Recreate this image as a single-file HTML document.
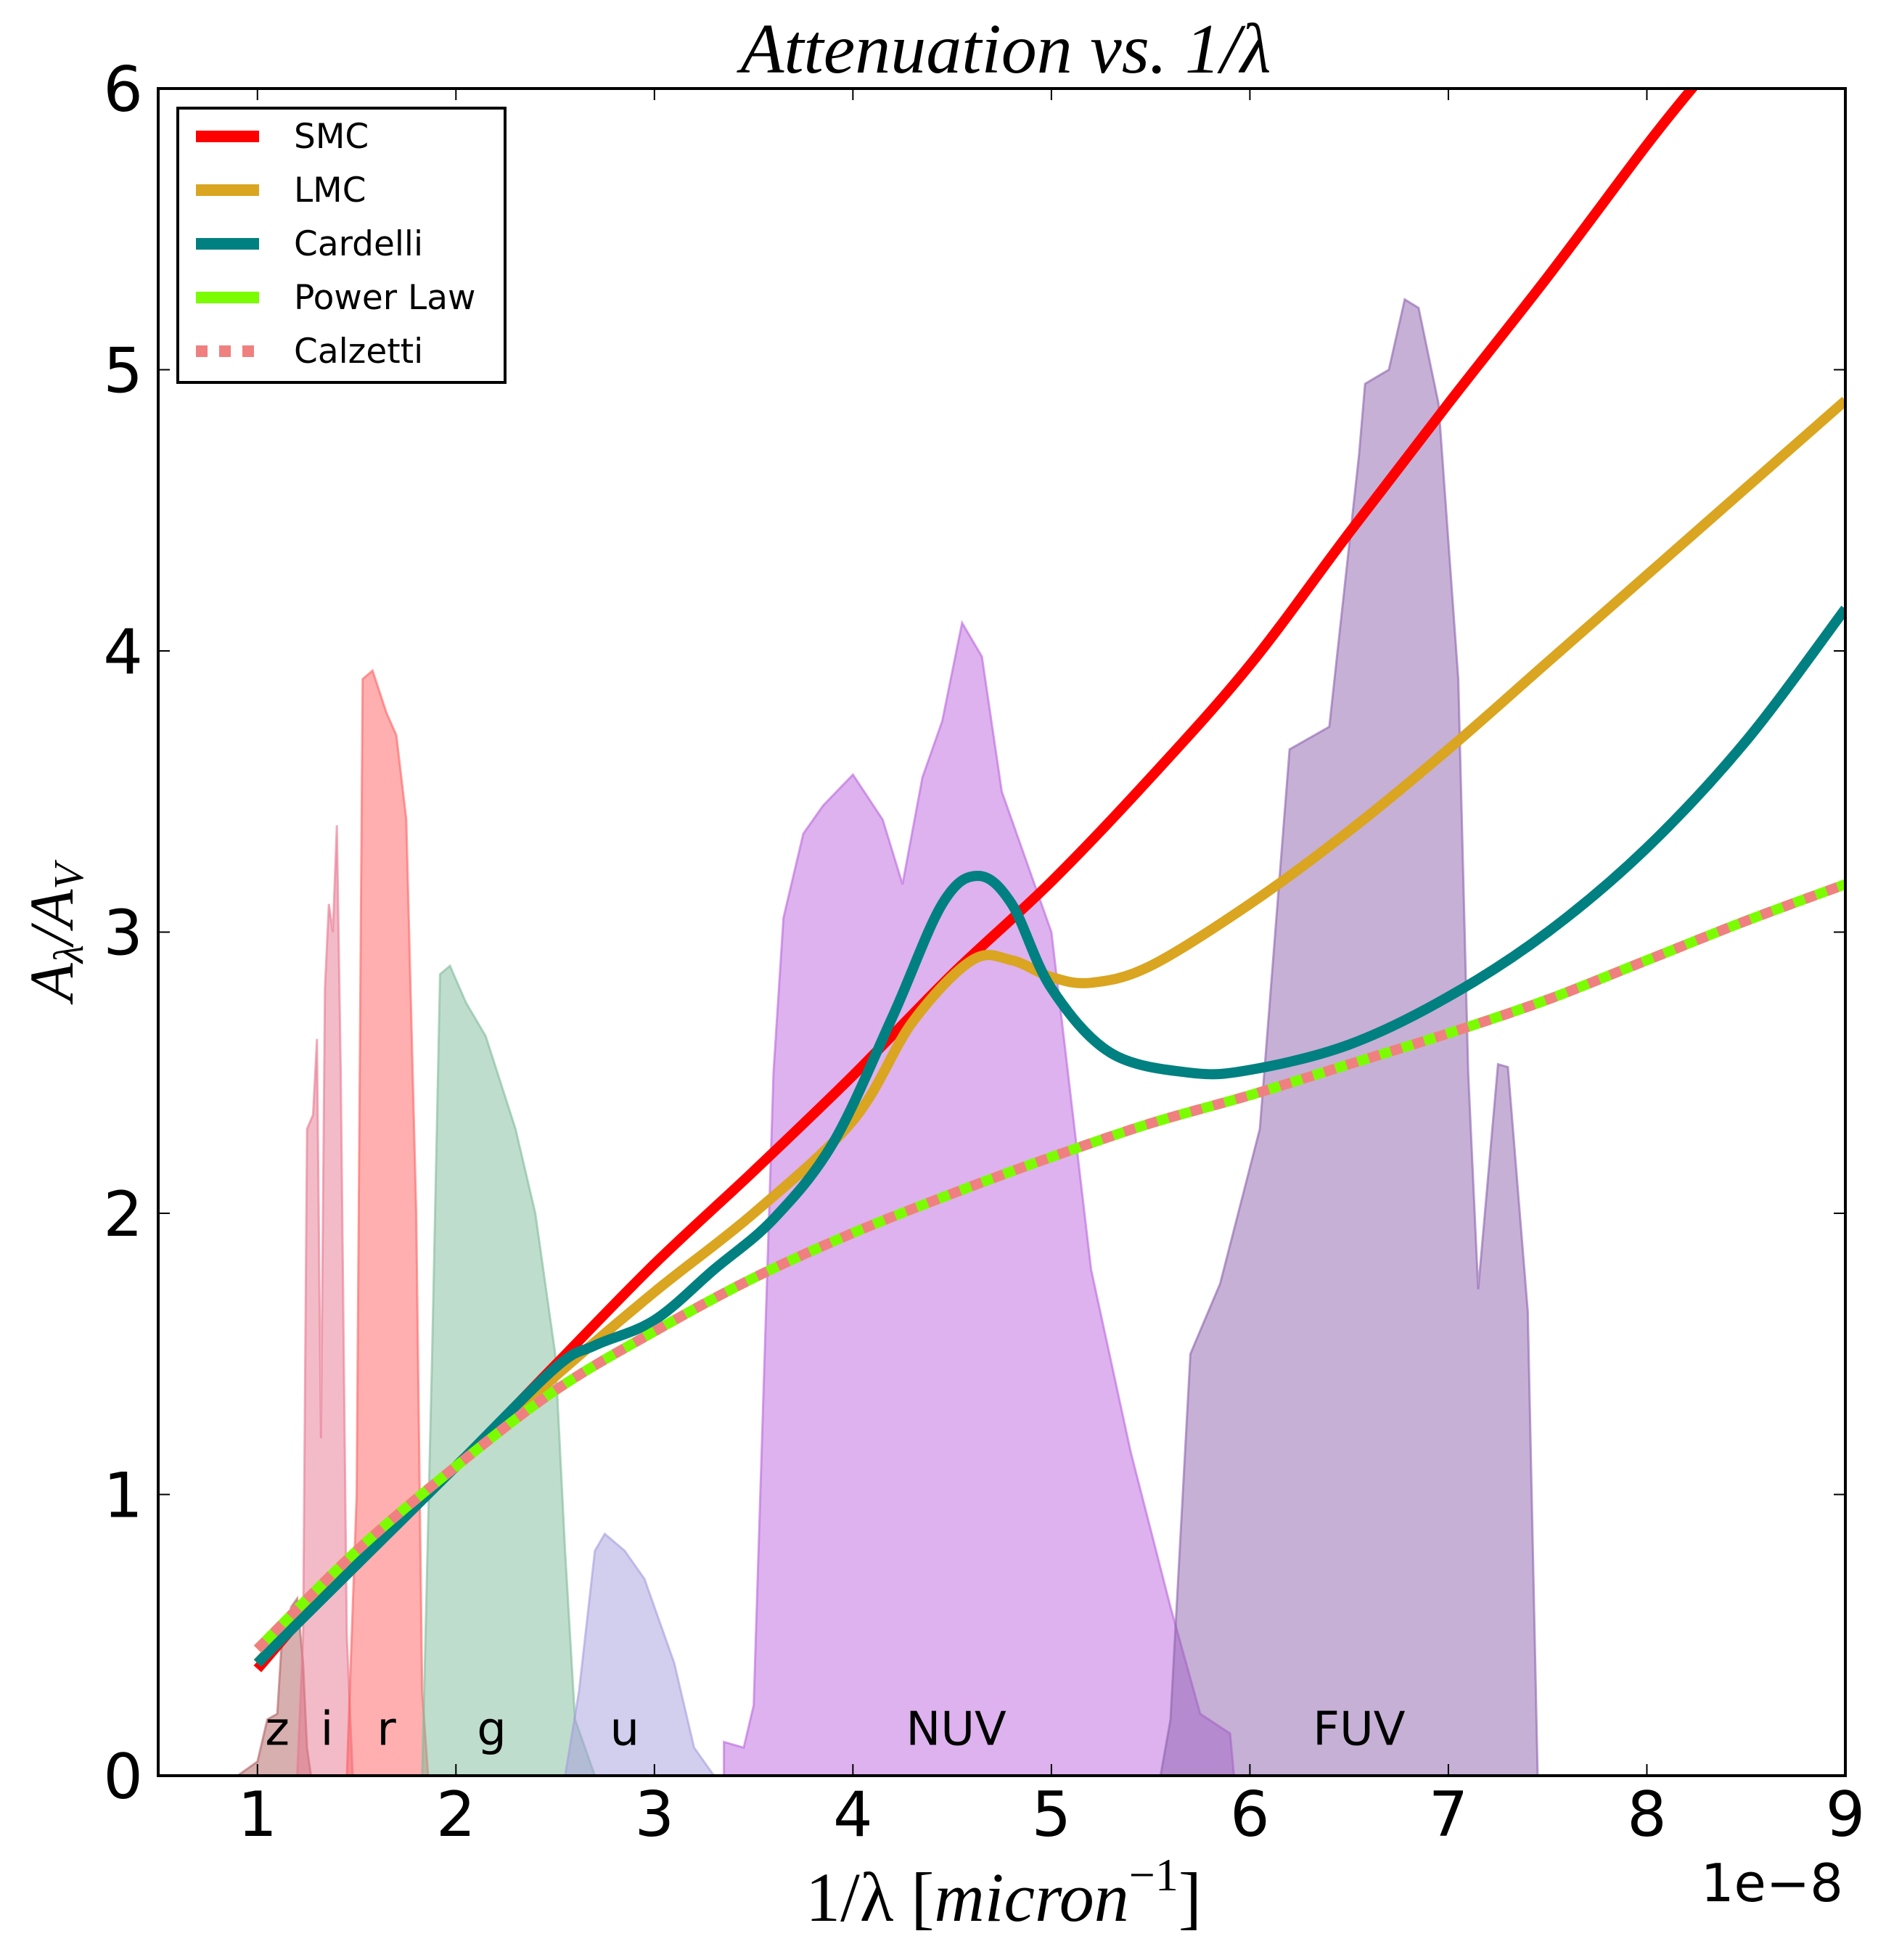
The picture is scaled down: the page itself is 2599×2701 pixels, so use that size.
<!DOCTYPE html>
<html><head><meta charset="utf-8"><style>
html,body{margin:0;padding:0;background:#fff;}
svg{display:block;}
</style></head><body>
<svg id="chart" xmlns="http://www.w3.org/2000/svg" width="2599" height="2701" viewBox="0 0 2599 2701">
<rect x="0" y="0" width="2599" height="2701" fill="#fff"/>
<g id="bands"></g>
<g id="curves"></g>
<g id="axes"></g>
<text x="1386" y="100" text-anchor="middle" font-family="Liberation Serif, serif" font-style="italic" font-size="98">Attenuation vs. 1/λ</text>
<text x="1383" y="2647" text-anchor="middle" font-family="Liberation Serif, serif" font-size="96">1/λ [<tspan font-style="italic">micron</tspan><tspan font-size="64" dy="-42">−1</tspan><tspan dy="42">]</tspan></text>
<text transform="translate(100,1285) rotate(-90)" text-anchor="middle" font-family="Liberation Serif, serif" font-style="italic" font-size="86">A<tspan font-size="58" dy="14">λ</tspan><tspan dy="-14">/A</tspan><tspan font-size="58" dy="14">V</tspan></text>
<text x="2540" y="2620" text-anchor="end" font-family="DejaVu Sans, sans-serif" font-size="72">1e−8</text>
<g id="legend"></g>
</svg>
<script>
const L=218,R=2543,T=122,B=2447,XMIN=0.5,XMAX=9,YMIN=0,YMAX=6;
function sx(v){return L+(v-XMIN)/(XMAX-XMIN)*(R-L);}
function sy(v){return B-(v-YMIN)/(YMAX-YMIN)*(B-T);}
const NS="http://www.w3.org/2000/svg";
function mk(tag,attrs,parent){const e=document.createElementNS(NS,tag);for(const k in attrs)e.setAttribute(k,attrs[k]);parent.appendChild(e);return e;}

const xTicks=[1,2,3,4,5,6,7,8,9];
const xTickLabels=["1","2","3","4","5","6","7","8","9"];
const yTicks=[0,1,2,3,4,5,6];
const yTickLabels=["0","1","2","3","4","5","6"];

const bandNames=["z","i","r","g","u","NUV","FUV"];
const bandLabelX=[1.1,1.35,1.65,2.18,2.85,4.52,6.55];
const bandZ=[[0.9,0],[1.0,0.05],[1.05,0.2],[1.1,0.22],[1.12,0.45],[1.17,0.6],[1.2,0.63],[1.23,0.4],[1.25,0.1],[1.27,0]];
const bandI=[[1.2,0],[1.23,0.5],[1.25,2.3],[1.28,2.35],[1.3,2.62],[1.32,1.2],[1.34,2.8],[1.36,3.1],[1.38,3.0],[1.4,3.38],[1.42,2.5],[1.45,0.5],[1.48,0]];
const bandR=[[1.45,0],[1.5,1.0],[1.53,3.9],[1.58,3.93],[1.65,3.78],[1.7,3.7],[1.75,3.4],[1.8,2.0],[1.83,0.3],[1.86,0]];
const bandG=[[1.83,0],[1.88,1.5],[1.92,2.85],[1.97,2.88],[2.05,2.75],[2.15,2.63],[2.3,2.3],[2.4,2.0],[2.5,1.5],[2.55,0.8],[2.6,0.2],[2.7,0]];
const bandU=[[2.55,0],[2.62,0.3],[2.7,0.8],[2.75,0.86],[2.85,0.8],[2.95,0.7],[3.1,0.4],[3.2,0.1],[3.3,0]];
const bandNUV=[[3.35,0],[3.35,0.12],[3.45,0.1],[3.5,0.25],[3.6,2.5],[3.65,3.05],[3.75,3.35],[3.85,3.45],[4.0,3.56],[4.15,3.4],[4.25,3.17],[4.35,3.55],[4.45,3.75],[4.55,4.1],[4.65,3.98],[4.75,3.5],[5.0,3.0],[5.2,1.8],[5.4,1.15],[5.6,0.6],[5.75,0.22],[5.9,0.15],[5.92,0]];
const bandFUV=[[5.55,0],[5.6,0.2],[5.7,1.5],[5.85,1.75],[6.05,2.3],[6.2,3.65],[6.4,3.73],[6.55,4.7],[6.58,4.95],[6.7,5.0],[6.78,5.25],[6.85,5.22],[6.95,4.88],[7.05,3.9],[7.1,2.5],[7.15,1.73],[7.25,2.53],[7.3,2.52],[7.4,1.65],[7.45,0]];

const smc=[[1,0.38],[1.5,0.78],[2,1.1],[2.5,1.46],[3,1.82],[3.5,2.15],[4,2.49],[4.5,2.85],[5,3.18],[5.5,3.55],[6,3.95],[6.5,4.42],[7,4.88],[7.5,5.33],[8,5.8],[8.25,6.02]];
const lmc=[[1,0.4],[1.5,0.78],[2,1.1],[2.5,1.42],[3,1.72],[3.5,2.0],[4,2.33],[4.3,2.68],[4.6,2.9],[4.8,2.9],[5,2.84],[5.2,2.82],[5.5,2.88],[6,3.1],[6.5,3.36],[7,3.65],[7.5,3.96],[8,4.27],[8.5,4.58],[9,4.89]];
const cardelli=[[1,0.4],[1.5,0.75],[2,1.1],[2.5,1.45],[2.7,1.53],[3,1.62],[3.3,1.8],[3.6,1.98],[3.9,2.25],[4.2,2.7],[4.45,3.1],[4.63,3.2],[4.8,3.1],[5,2.8],[5.3,2.57],[5.7,2.5],[6,2.51],[6.5,2.6],[7,2.77],[7.5,3.0],[8,3.3],[8.5,3.68],[9,4.15]];
const powerLaw=[[1,0.45],[1.5,0.8],[2,1.1],[2.5,1.37],[3,1.58],[3.5,1.77],[4,1.93],[4.5,2.07],[5,2.2],[5.5,2.32],[6,2.42],[6.5,2.53],[7,2.64],[7.5,2.76],[8,2.9],[8.5,3.04],[9,3.17]];
const calzetti=[[1,0.45],[1.5,0.8],[2,1.1],[2.5,1.37],[3,1.58],[3.5,1.77],[4,1.93],[4.5,2.07],[5,2.2],[5.5,2.32],[6,2.42],[6.5,2.53],[7,2.64],[7.5,2.76],[8,2.9],[8.5,3.04],[9,3.17]];

const bands=document.getElementById('bands');
const bandData=[bandZ,bandI,bandR,bandG,bandU,bandNUV,bandFUV];
const bandColors=["#b06060","#e87890","#ff6060","#80bb99","#a59ddd","#bb66dd","#8e62ae"];
bandData.forEach((d,i)=>{
  const p=mk('polygon',{points:d.map(q=>sx(q[0]).toFixed(1)+','+sy(q[1]).toFixed(1)).join(' '),fill:bandColors[i],'fill-opacity':0.5,stroke:bandColors[i],'stroke-opacity':0.6,'stroke-width':3},bands);
  
  
});
bandNames.forEach((n,i)=>{
  const t=mk('text',{x:sx(bandLabelX[i]),y:sy(0.11),'text-anchor':'middle','font-family':'DejaVu Sans, sans-serif','font-size':64},bands);
  t.textContent=n;
  
  
});

function smooth(d){
  const p=d.map(q=>[sx(q[0]),sy(q[1])]);
  let s='M'+p[0][0].toFixed(1)+','+p[0][1].toFixed(1);
  for(let i=0;i<p.length-1;i++){
    const p0=p[i-1]||p[i],p1=p[i],p2=p[i+1],p3=p[i+2]||p[i+1];
    const c1=[p1[0]+(p2[0]-p0[0])/6,p1[1]+(p2[1]-p0[1])/6];
    const c2=[p2[0]-(p3[0]-p1[0])/6,p2[1]-(p3[1]-p1[1])/6];
    s+=' C'+c1[0].toFixed(1)+','+c1[1].toFixed(1)+' '+c2[0].toFixed(1)+','+c2[1].toFixed(1)+' '+p2[0].toFixed(1)+','+p2[1].toFixed(1);
  }
  return s;
}
const curves=document.getElementById('curves');
const cp=mk('clipPath',{id:'clip'},curves);
mk('rect',{x:L,y:T,width:R-L,height:B-T},cp);
const series=[
 {d:smc,c:'#ff0000',n:'SMC',dash:null},
 {d:lmc,c:'#daa520',n:'LMC',dash:null},
 {d:cardelli,c:'#008080',n:'Cardelli',dash:null},
 {d:powerLaw,c:'#7cfc00',n:'Power Law',dash:null},
 {d:calzetti,c:'#f08080',n:'Calzetti',dash:'16,16'}];
series.forEach(s=>{
  const a={d:smooth(s.d),fill:'none',stroke:s.c,'stroke-width':14,'clip-path':'url(#clip)'};
  if(s.dash)a['stroke-dasharray']=s.dash;
  const p=mk('path',a,curves);
  
  
});

const axes=document.getElementById('axes');
const fr=mk('rect',{x:L,y:T,width:R-L,height:B-T,fill:'none',stroke:'#000','stroke-width':4},axes);


xTicks.forEach((v,i)=>{
  const x=sx(v);
  mk('line',{x1:x,y1:B,x2:x,y2:B-16,stroke:'#000','stroke-width':2},axes);
  mk('line',{x1:x,y1:T,x2:x,y2:T+16,stroke:'#000','stroke-width':2},axes);
  const t=mk('text',{x:x,y:2530,'text-anchor':'middle','font-family':'DejaVu Sans, sans-serif','font-size':86},axes);
  t.textContent=xTickLabels[i];
  
  
});
yTicks.forEach((v,i)=>{
  const y=sy(v);
  mk('line',{x1:L,y1:y,x2:L+16,y2:y,stroke:'#000','stroke-width':2},axes);
  mk('line',{x1:R,y1:y,x2:R-16,y2:y,stroke:'#000','stroke-width':2},axes);
  const t=mk('text',{x:197,y:y+31,'text-anchor':'end','font-family':'DejaVu Sans, sans-serif','font-size':86},axes);
  t.textContent=yTickLabels[i];
  
  
});

const lg=document.getElementById('legend');
const lb=mk('rect',{x:245,y:149,width:451,height:378,fill:'#fff',stroke:'#000','stroke-width':4},lg);


series.forEach((s,i)=>{
  const y=188+i*74;
  const a={x1:270,y1:y,x2:357,y2:y,stroke:s.c,'stroke-width':16};
  if(s.dash)a['stroke-dasharray']='16,16';
  const ln=mk('line',a,lg);
  
  
  const t=mk('text',{x:405,y:y+16,'font-family':'DejaVu Sans, sans-serif','font-size':47},lg);
  t.textContent=s.n;
  
  
});
</script>
</body></html>
